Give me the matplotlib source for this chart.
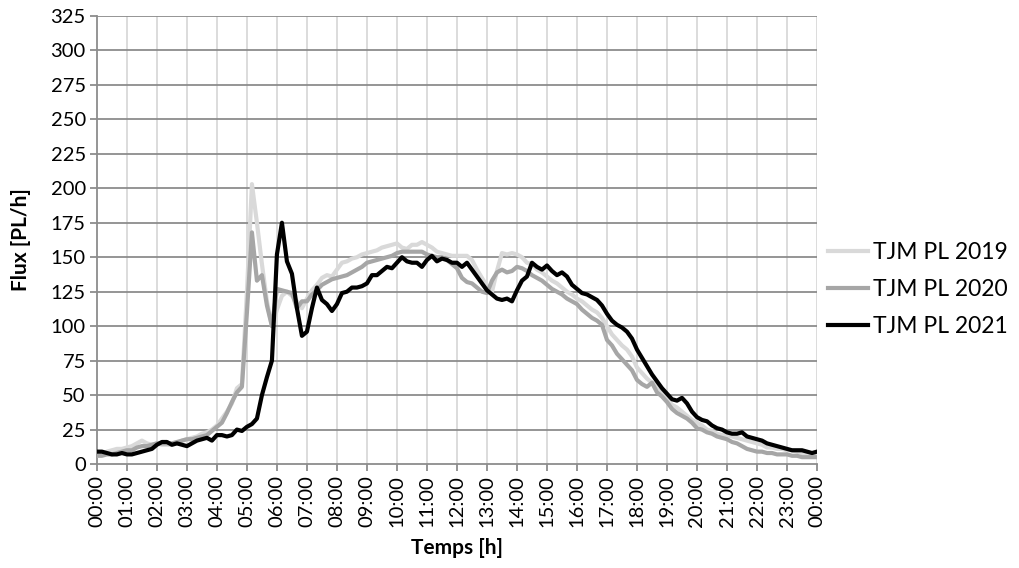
import numpy as np
import matplotlib
matplotlib.use("Agg")
import matplotlib.pyplot as plt

plt.rcParams['font.family'] = ['Lato', 'DejaVu Sans']

# 10-minute steps from 00:00 to 24:00 (145 points)
minutes = np.arange(0, 24 * 60 + 1, 10)

flux_2019 = [
    6, 7, 9, 10, 11, 11,
    12, 13, 15, 17, 15, 14,
    15, 14, 14, 14, 15, 17,
    18, 19, 20, 22, 23, 25,
    28, 33, 38, 44, 55, 58,
    125, 203, 175, 145, 118, 100,
    112, 122, 125, 122, 118, 113,
    120, 126, 130, 135, 137, 136,
    141, 146, 147, 149, 150, 152,
    153, 154, 155, 157, 158, 159,
    160, 157, 156, 159, 159, 161,
    159, 157, 154, 153, 152, 151,
    151, 151, 151, 148, 141, 135,
    129, 125, 140, 153, 152, 153,
    152, 150, 146, 145, 141, 139,
    136, 133, 131, 128, 125, 123,
    120, 118, 115, 112, 110, 106,
    100, 94, 90, 86, 83, 78,
    70, 66, 62, 59, 57, 52,
    47, 43, 41, 38, 35, 32,
    30, 28, 25, 24, 22, 21,
    21, 20, 19, 18, 17, 16,
    15, 14, 12, 12, 11, 11,
    10, 10, 9, 8, 8, 7,
    7,
]

flux_2020 = [
    6, 6, 7, 7, 8, 9,
    10, 10, 12, 13, 13, 14,
    15, 15, 15, 15, 16, 17,
    18, 18, 19, 20, 21, 24,
    27, 30, 37, 45, 52, 56,
    110, 168, 133, 137, 115, 100,
    127, 126, 125, 124, 113, 118,
    118, 123, 126, 130, 132, 134,
    135, 136, 137, 139, 141, 143,
    146, 147, 148, 149, 150, 151,
    153, 154, 154, 154, 154, 154,
    152, 151, 150, 150, 148, 145,
    142, 135, 132, 131, 128, 125,
    124, 133, 139, 141, 139, 140,
    143, 142, 140, 137, 135, 133,
    130, 127, 125, 123, 120, 118,
    116, 112, 109, 106, 104, 101,
    90, 86, 80, 76, 72, 68,
    61, 58, 56, 59, 52, 49,
    45, 40, 37, 35, 33, 30,
    26, 25, 23, 22, 20, 19,
    18, 16, 15, 13, 11, 10,
    9, 9, 8, 8, 7, 7,
    7, 6, 6, 5, 5, 5,
    5,
]

flux_2021 = [
    9, 9, 8, 7, 7, 8,
    7, 7, 8, 9, 10, 11,
    14, 16, 16, 14, 15, 14,
    13, 15, 17, 18, 19, 17,
    21, 21, 20, 21, 25, 24,
    27, 29, 33, 50, 63, 75,
    152, 175, 147, 138, 113, 93,
    96, 113, 128, 119, 116, 111,
    116, 124, 125, 128, 128, 129,
    131, 137, 137, 140, 143, 142,
    146, 150, 147, 146, 146, 143,
    148, 151, 147, 149, 148, 146,
    146, 143, 146, 141, 136, 131,
    126, 123, 120, 119, 120, 118,
    126, 133, 136, 146, 143, 141,
    144, 140, 137, 139, 136, 130,
    127, 124, 123, 121, 119, 115,
    109, 104, 101, 99, 96, 91,
    83, 77, 71, 65, 60, 55,
    51, 47, 46, 48, 44, 38,
    34, 32, 31, 28, 26, 25,
    23, 22, 22, 23, 20, 19,
    18, 17, 15, 14, 13, 12,
    11, 10, 10, 10, 9, 8,
    9,
]

series_labels = ["TJM PL 2019", "TJM PL 2020", "TJM PL 2021"]
series_colors = ["#d9d9d9", "#a6a6a6", "#000000"]
hour_labels = [f"{h % 24:02d}:00" for h in range(25)]
y_ticks = list(range(0, 326, 25))

fig = plt.figure(figsize=(10.2, 5.68), dpi=100)
ax = fig.add_axes([0.095, 0.183, 0.706, 0.789])

hours = minutes / 60.0
for vals, lab, col in zip([flux_2019, flux_2020, flux_2021], series_labels, series_colors):
    ax.plot(hours, vals, color=col, lw=3.0, label=lab, solid_joinstyle="round", zorder=3)

ax.set_xlim(0, 24)
ax.set_ylim(0, 325)
ax.set_xticks(range(25))
ax.set_xticklabels(hour_labels, rotation=90, fontsize=14.5)
ax.set_yticks(y_ticks)
ax.set_yticklabels([str(v) for v in y_ticks], fontsize=14.5)

# light vertical hour grid, darker horizontal grid
for h in range(1, 25):
    ax.axvline(h, color="#d9d9d9", lw=1.3, zorder=1)
for v in y_ticks[1:]:
    ax.axhline(v, color="#8c8c8c", lw=1.3, zorder=1)

for side in ("top", "right"):
    ax.spines[side].set_visible(False)
for side in ("left", "bottom"):
    ax.spines[side].set_color("#8c8c8c")
    ax.spines[side].set_linewidth(1.3)
ax.tick_params(axis="both", direction="out", length=5, width=1.3, color="#8c8c8c", pad=3)

ax.set_xlabel("Temps [h]", fontsize=15, fontweight="bold", labelpad=8)
ax.set_ylabel("Flux [PL/h]", fontsize=15, fontweight="bold", labelpad=14)

ax.legend(loc="center left", bbox_to_anchor=(1.015, 0.39), frameon=False,
          borderpad=0, borderaxespad=0,
          fontsize=16.5, handlelength=1.75, handletextpad=0.2, labelspacing=0.7)

fig.savefig("out.png", dpi=100, facecolor="white")
